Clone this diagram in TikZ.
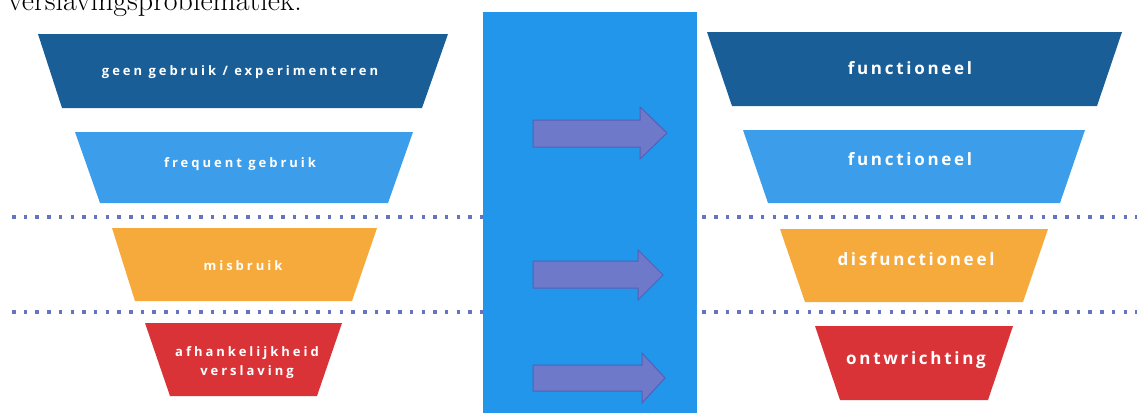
\documentclass[tikz,border=0pt]{standalone}
\usepackage{fontspec}
\newfontfamily\lblfontL[LetterSpace=23]{Open Sans}
\newfontfamily\lblfontR[LetterSpace=16]{Open Sans}
\definecolor{dkblue}{HTML}{1A5E98}
\definecolor{ltblue}{HTML}{3C9EEA}
\definecolor{orng}{HTML}{F6AA3C}
\definecolor{rd}{HTML}{D93338}
\definecolor{boxblue}{HTML}{2196EA}
\definecolor{arrf}{HTML}{6E79C9}
\definecolor{arrd}{HTML}{5560B8}
\definecolor{dotc}{HTML}{6673BF}
\tikzset{
  lblL/.style={text=white,font=\lblfontL\bfseries\fontsize{13}{19}\selectfont,align=center,inner sep=0},
  lblR/.style={text=white,font=\lblfontR\bfseries\fontsize{17}{20}\selectfont,align=center,inner sep=0},
  dotline/.style={dotc,line width=3.5pt,dash pattern=on 3.5pt off 8.2pt},
  bigarrow/.style={fill=arrf,draw=arrd,line width=1pt,line join=miter}
}
\begin{document}
\begin{tikzpicture}[x=1pt,y=-1pt]
\useasboundingbox (0,0) rectangle (1140,413);
\clip (0,0) rectangle (1140,413);
\node[anchor=base west,inner sep=0,font=\fontsize{30}{32}\selectfont] (hdr) at (8,10) {verslavingsproblematiek.};
% left funnel
\fill[dkblue] (38,34) -- (448,34) -- (422,108) -- (62,108) -- cycle;
\node[lblL] (l1) at (240,72) {geen gebruik / experimenteren};
\fill[ltblue] (75,132) -- (413,132) -- (388,203) -- (100,203) -- cycle;
\node[lblL] (l2) at (240,164) {frequent gebruik};
\fill[orng] (112,228) -- (377,228) -- (352,301) -- (135,301) -- cycle;
\node[lblL] (l3) at (243,266) {misbruik};
\fill[rd] (145,323) -- (342,323) -- (317,396) -- (170,396) -- cycle;
\node[lblL] (l4) at (247,363) {afhankelijkheid\\verslaving};
% right funnel
\fill[dkblue] (707,32) -- (1122,32) -- (1097,106) -- (732,106) -- cycle;
\node[lblR] (r1) at (910,68) {functioneel};
\fill[ltblue] (743,130) -- (1085,130) -- (1060,203) -- (768,203) -- cycle;
\node[lblR] (r2) at (910,159) {functioneel};
\fill[orng] (780,229) -- (1048,229) -- (1023,302) -- (805,302) -- cycle;
\node[lblR] (r3) at (916,259) {disfunctioneel};
\fill[rd] (815,326) -- (1013,326) -- (988,400) -- (840,400) -- cycle;
\node[lblR] (r4) at (916,360) {ontwrichting};
% dotted separators
\draw[dotline] (12,217) -- (1137,217);
\draw[dotline] (12,312) -- (1137,312);
% central column
\fill[boxblue] (483,12) rectangle (697,413);
\draw[bigarrow] (533,120) -- (640,120) -- (640,107) -- (667,133) -- (640,159) -- (640,147) -- (533,147) -- cycle;
\draw[bigarrow] (533,261) -- (638,261) -- (638,250) -- (663,275) -- (638,300) -- (638,288) -- (533,288) -- cycle;
\draw[bigarrow] (533,365) -- (642,365) -- (642,353) -- (665,378) -- (642,403) -- (642,391) -- (533,391) -- cycle;
\end{tikzpicture}
\end{document}
